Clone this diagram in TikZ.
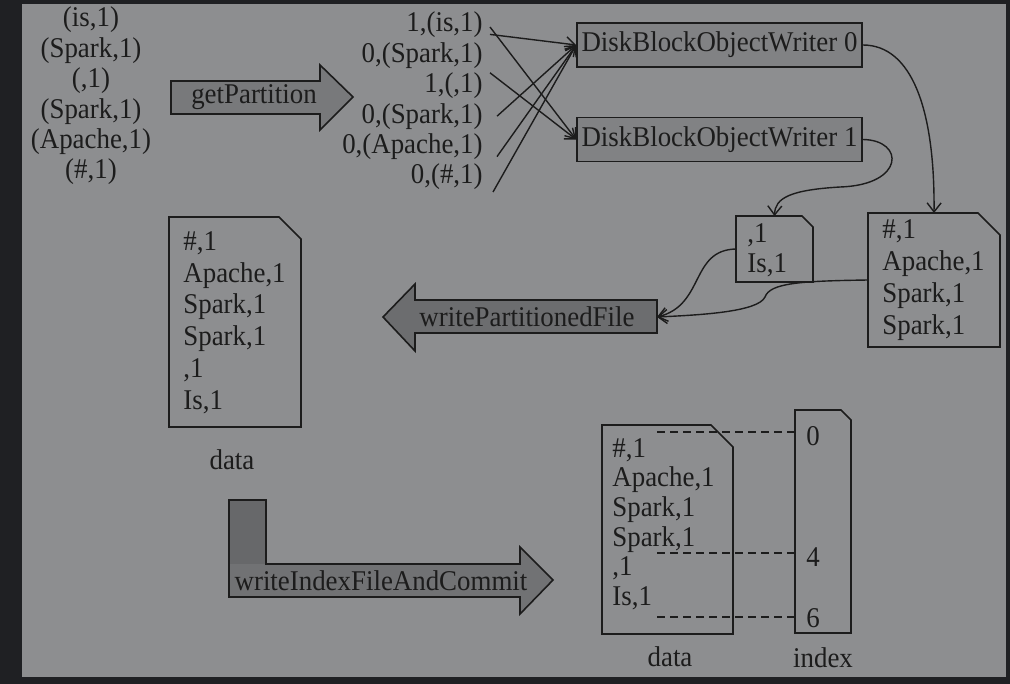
\documentclass[tikz,border=0pt]{standalone}
\usepackage{fontspec}
\setmainfont{Liberation Serif}[FakeStretch=0.94]
\usetikzlibrary{arrows.meta}

\definecolor{framebg}{HTML}{1F2023}
\definecolor{panelbg}{HTML}{8D8E90}
\definecolor{boxfill}{HTML}{818284}
\definecolor{arrowfill}{HTML}{78797B}
\definecolor{arrowdark}{HTML}{6C6D6F}
\definecolor{ink}{HTML}{1C1C1C}

\tikzset{
  lines/.style={font=\fontsize{14.3}{#1}\selectfont},
  txt/.style={inner sep=0pt, text=ink, lines=15.2},
  writer/.style={draw=ink, line width=0.8pt, fill=boxfill, minimum width=142.5pt, minimum height=22pt, txt},
  file/.style={inner sep=0pt, outer sep=0pt},
  fileline/.style={draw=ink, line width=0.8pt},
  wire/.style={draw=ink, line width=0.7pt, ->},
  dashline/.style={draw=ink, line width=0.7pt, dash pattern=on 4pt off 2.5pt},
  fatarrow/.style={draw=ink, line width=0.8pt},
}
% outline of a file with its upper right corner cut off
\newcommand{\fileoutline}[2]{%
  \draw[fileline] (#1.north west) -- ([xshift=-#2]#1.north east) -- ([yshift=-#2]#1.north east)
    -- (#1.south east) -- (#1.south west) -- cycle;}

\begin{document}
\begin{tikzpicture}[x=0.5pt, y=-0.5pt, >={Straight Barb[length=4.5pt,width=7pt]}]
\useasboundingbox (0,0) rectangle (1010,684);
\fill[framebg] (0,0) rectangle (1010,684);
\fill[panelbg] (22,4) rectangle (1006,677);

% records of the map side
\node[txt, align=center] (rec) at (91,96) {(is,1)\\(Spark,1)\\(,1)\\(Spark,1)\\(Apache,1)\\(\#,1)};

\draw[fatarrow, fill=arrowfill] (171,81) -- (320,81) -- (320,65) -- (353,97) -- (320,130) -- (320,114) -- (171,114) -- cycle;
\node[txt] (gp) at (254,97) {getPartition};

% partition id, record
\foreach \t [count=\i] in {{1,(is,1)},{0,(Spark,1)},{1,(,1)},{0,(Spark,1)},{0,(Apache,1)},{0,(\#,1)}}
  \node[txt, anchor=east] (p\i) at (483,{25+30.4*(\i-1)}) {\t};

\node[writer] (w0) at (719.5,45) {DiskBlockObjectWriter 0};
\node[writer] (w1) at (719.5,139.5) {DiskBlockObjectWriter 1};

\foreach \s/\dx/\dy/\w in {p1/3.5/-1/w1, p2/3.5/10.5/w0, p3/3.5/6.5/w1, p4/7/0/w0, p5/7/-5/w0, p6/5/-7.5/w0}
  \draw[wire] ([xshift=\dx pt, yshift=\dy pt]\s.east) -- (\w.west);

% spilled files
\node[file, minimum width=66pt, minimum height=67pt] (f0) at (934,280) {};
\fileoutline{f0}{11pt}
\node[txt, align=left, anchor=west, lines=16] (f0rec) at (882,280) {\#,1\\Apache,1\\Spark,1\\Spark,1};
\node[file, minimum width=38.5pt, minimum height=33pt] (f1) at (774.5,249) {};
\fileoutline{f1}{5.5pt}
\node[txt, align=left, anchor=west, lines=15] (f1rec) at (747,250) {,1\\Is,1};

\draw[wire] (w0.east) .. controls (912,45) and (935,110) .. (f0.north);
\draw[wire] (w1.east) .. controls (905,140) and (905,185) .. (840,187) .. controls (790,190) and (775,198) .. (f1.north);

% merge
\draw[fatarrow, fill=arrowdark] (657,300) -- (415,300) -- (415,284) -- (383,317) -- (415,351) -- (415,333) -- (657,333) -- cycle;
\node[txt] (wpf) at (527,317) {writePartitionedFile};
\coordinate (wpfend) at (657,317);

\draw[wire] (f1.west) .. controls (690,250) and (705,305) .. (wpfend);
\draw[wire] (f0.west) .. controls (800,281) and (770,283) .. (765,297) .. controls (758,312) and (700,315) .. (wpfend);

\node[file, minimum width=66pt, minimum height=105pt] (dat) at (235,322) {};
\fileoutline{dat}{11pt}
\node[txt, align=left, anchor=west, lines=15.9] (datrec) at (183,322.5) {\#,1\\Apache,1\\Spark,1\\Spark,1\\,1\\Is,1};
\node[txt] (datlab) at (232,460) {data};

% index file
\fill[arrowfill!105!white] (229,500) -- (266,500) -- (266,564) -- (520,564) -- (520,547) -- (553,580) -- (520,614) -- (520,597) -- (229,597) -- cycle;
\fill[arrowdark!95!black] (229,500) rectangle (266,564);
\draw[fatarrow] (229,500) -- (266,500) -- (266,564) -- (520,564) -- (520,547) -- (553,580) -- (520,614) -- (520,597) -- (229,597) -- cycle;
\node[txt] (wif) at (381,581) {writeIndexFileAndCommit};

\node[file, minimum width=65.5pt, minimum height=104.5pt] (out) at (667.5,529.5) {};
\fileoutline{out}{11pt}
\node[txt, align=left, anchor=west, lines=14.8] (outrec) at (612,524) {\#,1\\Apache,1\\Spark,1\\Spark,1\\,1\\Is,1};
\node[file, minimum width=28pt, minimum height=111.5pt] (idx) at (823,521.5) {};
\fileoutline{idx}{5pt}

\foreach \n/\y/\ty in {0/432/436, 4/553/557, 6/617/618} {
  \node[txt] (i\n) at (813,\ty) {\n};
  \coordinate (d\n) at (657,\y);
  \draw[dashline] (d\n) -- (d\n -| idx.west);
}

\node[txt] (outlab) at (670,657) {data};
\node[txt] (idxlab) at (823,658) {index};
\end{tikzpicture}
\end{document}
